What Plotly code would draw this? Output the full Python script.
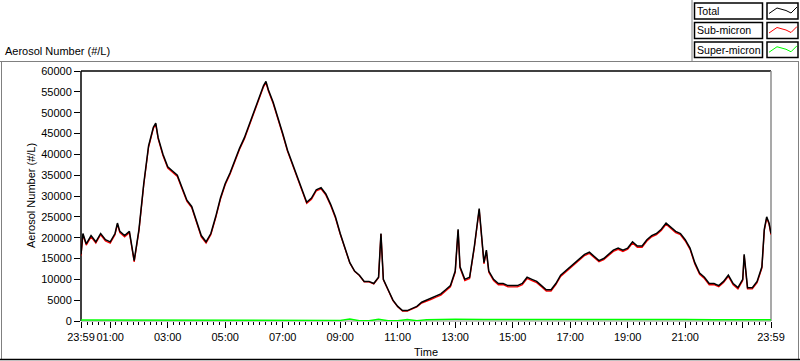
import plotly.graph_objects as go

# ---------------- data ----------------
times = ["23:59", "00:03", "00:10", "00:20", "00:30", "00:40", "00:50", "01:00", "01:10", "01:15",
         "01:20", "01:30", "01:40", "01:45", "01:50", "02:00", "02:10", "02:20", "02:30", "02:35",
         "02:40", "02:50", "03:00", "03:10", "03:20", "03:30", "03:40", "03:50", "04:00", "04:10",
         "04:20", "04:30", "04:40", "04:50", "05:00", "05:10", "05:20", "05:30", "05:40", "05:50",
         "06:00", "06:10", "06:20", "06:25", "06:30", "06:40", "06:50", "07:00", "07:10", "07:20",
         "07:30", "07:40", "07:50", "08:00", "08:10", "08:20", "08:30", "08:40", "08:50", "09:00",
         "09:10", "09:20", "09:30", "09:40", "09:50", "10:00", "10:10", "10:20", "10:25", "10:30",
         "10:40", "10:50", "11:00", "11:10", "11:20", "11:30", "11:40", "11:50", "12:00", "12:10",
         "12:20", "12:30", "12:40", "12:50", "13:00", "13:06", "13:10", "13:20", "13:30", "13:40",
         "13:50", "14:00", "14:05", "14:10", "14:20", "14:30", "14:40", "14:50", "15:00", "15:10",
         "15:20", "15:30", "15:40", "15:50", "16:00", "16:10", "16:20", "16:30", "16:40", "16:50",
         "17:00", "17:10", "17:20", "17:30", "17:40", "17:50", "18:00", "18:10", "18:20", "18:30",
         "18:40", "18:50", "19:00", "19:10", "19:20", "19:30", "19:40", "19:50", "20:00", "20:10",
         "20:20", "20:30", "20:40", "20:50", "21:00", "21:10", "21:20", "21:30", "21:40", "21:50",
         "22:00", "22:10", "22:20", "22:30", "22:40", "22:50", "23:00", "23:03", "23:10", "23:20",
         "23:30", "23:40", "23:45", "23:50", "23:55", "23:59"]

total = [16000, 21000, 18500, 20500, 19000, 21000, 19500, 19000, 21000, 23500,
         21500, 20500, 21500, 18000, 14500, 22000, 33000, 42000, 46500, 47500,
         44000, 40000, 37000, 36000, 35000, 32000, 29000, 27500, 24000, 20500,
         19000, 21000, 25000, 29500, 33000, 35500, 38500, 41500, 44000, 47000,
         50000, 53500, 56500, 57500, 55500, 52500, 49000, 45000, 41000, 38000,
         35000, 32000, 28500, 29500, 31500, 32000, 30500, 28000, 25000, 21000,
         17500, 14000, 12000, 11000, 9500, 9500, 9000, 10500, 21000, 10000,
         7500, 5000, 3500, 2500, 2500, 3000, 3500, 4500, 5000, 5500,
         6000, 6500, 7500, 8500, 12000, 22000, 13000, 10000, 10500, 18000,
         27000, 14000, 17000, 12000, 10000, 9000, 9000, 8500, 8500, 8500,
         9000, 10500, 10000, 9500, 8500, 7500, 7500, 9000, 11000, 12000,
         13000, 14000, 15000, 16000, 16500, 15500, 14500, 15000, 16000, 17000,
         17500, 17000, 17500, 19000, 18000, 18000, 19500, 20500, 21000, 22000,
         23500, 22500, 21500, 21000, 19500, 17500, 14000, 11500, 10500, 9000,
         9000, 8500, 9500, 11000, 9000, 8000, 10000, 16000, 8000, 8000,
         9500, 13000, 22000, 25000, 23500, 21000]

sub_micron = [15700, 20700, 18200, 20200, 18700, 20700, 19200, 18700, 20700, 23200,
              21200, 20200, 21200, 17700, 14200, 21700, 32700, 41700, 46200, 47200,
              43700, 39700, 36700, 35700, 34700, 31700, 28700, 27200, 23700, 20200,
              18700, 20700, 24700, 29200, 32700, 35200, 38200, 41200, 43700, 46700,
              49700, 53200, 56200, 57200, 55200, 52200, 48700, 44700, 40700, 37700,
              34700, 31700, 28200, 29200, 31200, 31700, 30200, 27700, 24700, 20800,
              17400, 13900, 11900, 10900, 9400, 9400, 8900, 10400, 20900, 9900,
              7400, 4900, 3400, 2400, 2400, 2900, 3400, 4300, 4700, 5200,
              5700, 6200, 7200, 8200, 11700, 21700, 12700, 9700, 10200, 17700,
              26700, 13700, 16700, 11700, 9700, 8700, 8700, 8200, 8200, 8200,
              8700, 10200, 9700, 9200, 8200, 7200, 7200, 8700, 10700, 11700,
              12700, 13700, 14700, 15700, 16200, 15200, 14200, 14700, 15700, 16700,
              17200, 16700, 17200, 18700, 17700, 17700, 19200, 20200, 20700, 21700,
              23200, 22200, 21200, 20700, 19200, 17200, 13700, 11200, 10200, 8700,
              8700, 8200, 9200, 10700, 8700, 7700, 9700, 15700, 7700, 7700,
              9200, 12700, 21700, 24700, 23200, 20700]

super_times = ["23:59", "01:00", "02:00", "03:00", "04:00", "05:00", "06:00", "07:00", "08:00",
               "09:00", "09:20", "09:40", "10:00", "10:20", "10:40", "11:00", "11:20", "11:40",
               "12:00", "12:30", "13:00", "14:00", "15:00", "16:00", "17:00", "18:00", "19:00",
               "20:00", "21:00", "22:00", "23:00", "23:30", "23:59"]
super_micron = [250, 250, 280, 260, 250, 270, 260, 250, 240,
                150, 450, 80, 60, 400, 70, 60, 350, 80,
                300, 380, 400, 380, 400, 360, 380, 400, 380,
                400, 380, 320, 280, 300, 330]

x_tick_vals = ["23:59", "01:00", "03:00", "05:00", "07:00", "09:00", "11:00", "13:00",
               "15:00", "17:00", "19:00", "21:00", "23:00", "23:59"]
x_tick_text = ["23:59", "01:00", "03:00", "05:00", "07:00", "09:00", "11:00", "13:00",
               "15:00", "17:00", "19:00", "21:00", "", "23:59"]
y_ticks = [0, 5000, 10000, 15000, 20000, 25000, 30000, 35000, 40000, 45000, 50000, 55000, 60000]
y_tick_text = ["0", "5000", "10000", "15000", "20000", "25000", "30000", "35000", "40000",
               "45000", "50000", "55000", "60000"]

series_names = ["Total", "Sub-micron", "Super-micron"]
series_colors = ["#000000", "#FF0000", "#00FF00"]


def to_hours(labels):
    """Convert HH:MM strings to hours; the leading 23:59 belongs to the previous day."""
    out = []
    for i, s in enumerate(labels):
        h, m = s.split(":")
        v = int(h) + int(m) / 60.0
        if i == 0 and v > 23:
            v -= 24
        out.append(v)
    return out


x_total = to_hours(times)
x_super = to_hours(super_times)
x_ticks = to_hours(x_tick_vals)

# ---------------- figure ----------------
W, H = 800, 361
FONT = "Liberation Sans, Arial, sans-serif"
FS = 11


def px(x):
    return x / W


def py(y):
    return 1 - y / H


fig = go.Figure()
fig.add_trace(go.Scatter(x=x_super, y=super_micron, mode="lines", name=series_names[2],
                         line=dict(color=series_colors[2], width=1.5)))
fig.add_trace(go.Scatter(x=x_total, y=sub_micron, mode="lines", name=series_names[1],
                         line=dict(color=series_colors[1], width=1.3)))
fig.add_trace(go.Scatter(x=x_total, y=total, mode="lines", name=series_names[0],
                         line=dict(color=series_colors[0], width=1.5)))

shapes = []
# outer panel frame
shapes.append(dict(type="line", xref="paper", yref="paper", x0=px(0), x1=px(799), y0=py(61.5), y1=py(61.5),
                   line=dict(color="#808080", width=1)))
shapes.append(dict(type="line", xref="paper", yref="paper", x0=px(1.5), x1=px(1.5), y0=py(61.5), y1=py(359),
                   line=dict(color="#808080", width=1)))
shapes.append(dict(type="line", xref="paper", yref="paper", x0=px(798.5), x1=px(798.5), y0=py(61.5), y1=py(359),
                   line=dict(color="#808080", width=1)))
shapes.append(dict(type="line", xref="paper", yref="paper", x0=px(0), x1=px(800), y0=py(359.5), y1=py(359.5),
                   line=dict(color="#000000", width=1.5)))
# legend panel frame
shapes.append(dict(type="line", xref="paper", yref="paper", x0=px(692), x1=px(692), y0=py(0), y1=py(61.5),
                   line=dict(color="#808080", width=1)))
# plot area border: top/left black, right/bottom gray (drawn beneath the traces)
shapes.append(dict(type="line", xref="x domain", yref="y domain", x0=0, x1=1, y0=1, y1=1, layer="below",
                   line=dict(color="#000000", width=1.5)))
shapes.append(dict(type="line", xref="x domain", yref="y domain", x0=0, x1=0, y0=0, y1=1, layer="below",
                   line=dict(color="#000000", width=1.5)))
shapes.append(dict(type="line", xref="x domain", yref="y domain", x0=1, x1=1, y0=0, y1=1, layer="below",
                   line=dict(color="#8c8c8c", width=1.5)))
shapes.append(dict(type="line", xref="x domain", yref="y domain", x0=0, x1=1, y0=0, y1=0, layer="below",
                   line=dict(color="#8c8c8c", width=1)))

annotations = []
# legend boxes
rows = [(3, 19), (22.5, 38.5), (42, 57.5)]
for (t, b), name, col in zip(rows, series_names, series_colors):
    shapes.append(dict(type="rect", xref="paper", yref="paper", x0=px(694.5), x1=px(762.5), y0=py(b), y1=py(t),
                       line=dict(color="#000000", width=1.5), fillcolor="white"))
    shapes.append(dict(type="rect", xref="paper", yref="paper", x0=px(767), x1=px(798), y0=py(b), y1=py(t),
                       line=dict(color="#000000", width=1.5), fillcolor="white"))
    mid = (t + b) / 2
    path = "M {} {} L {} {} L {} {} L {} {} L {} {}".format(
        px(769), py(mid + 2.5), px(777), py(mid - 3), px(786), py(mid - 0.5),
        px(791), py(mid + 2), px(797), py(mid - 4))
    shapes.append(dict(type="path", xref="paper", yref="paper", path=path,
                       line=dict(color=col, width=1)))
    annotations.append(dict(text=name, xref="paper", yref="paper", x=px(694.5), y=py(mid),
                            xanchor="left", yanchor="middle", showarrow=False,
                            font=dict(family=FONT, size=10.6, color="black")))

annotations.append(dict(text="Aerosol Number (#/L)", xref="paper", yref="paper", x=px(3), y=py(51),
                        xanchor="left", yanchor="middle", showarrow=False,
                        font=dict(family=FONT, size=FS, color="black")))
annotations.append(dict(text="Aerosol Number (#/L)", xref="paper", yref="paper", x=px(31), y=py(196),
                        xanchor="center", yanchor="middle", showarrow=False, textangle=-90,
                        font=dict(family=FONT, size=FS, color="black")))
annotations.append(dict(text="Time", xref="paper", yref="paper", x=px(426), y=py(352),
                        xanchor="center", yanchor="middle", showarrow=False,
                        font=dict(family=FONT, size=FS, color="black")))

fig.update_layout(
    width=W, height=H,
    margin=dict(l=0, r=0, t=0, b=0),
    paper_bgcolor="white", plot_bgcolor="white",
    showlegend=False,
    font=dict(family=FONT, size=FS, color="black"),
    shapes=shapes, annotations=annotations,
    xaxis=dict(domain=[81 / W, 771 / W], range=[x_ticks[0], x_ticks[-1]],
               tickmode="array", tickvals=x_ticks, ticktext=x_tick_text, tickangle=0,
               ticks="outside", ticklen=6, tickwidth=1, tickcolor="black",
               showgrid=False, zeroline=False, showline=False, automargin=False,
               minor=dict(ticks="outside", ticklen=3, tickwidth=1, tickcolor="black",
                          tick0=1, dtick=0.2, showgrid=False),
               tickfont=dict(family=FONT, size=FS, color="black")),
    yaxis=dict(domain=[1 - 321 / H, 1 - 71 / H], range=[0, 60000],
               tickmode="array", tickvals=y_ticks, ticktext=y_tick_text,
               ticks="outside", ticklen=6, tickwidth=1, tickcolor="black",
               showgrid=False, zeroline=False, showline=False, automargin=False,
               tickfont=dict(family=FONT, size=FS, color="black")),
)

fig.write_html("out.html", config={"displayModeBar": False},
               post_script="document.body.style.margin='0px';document.body.style.overflow='hidden';")
